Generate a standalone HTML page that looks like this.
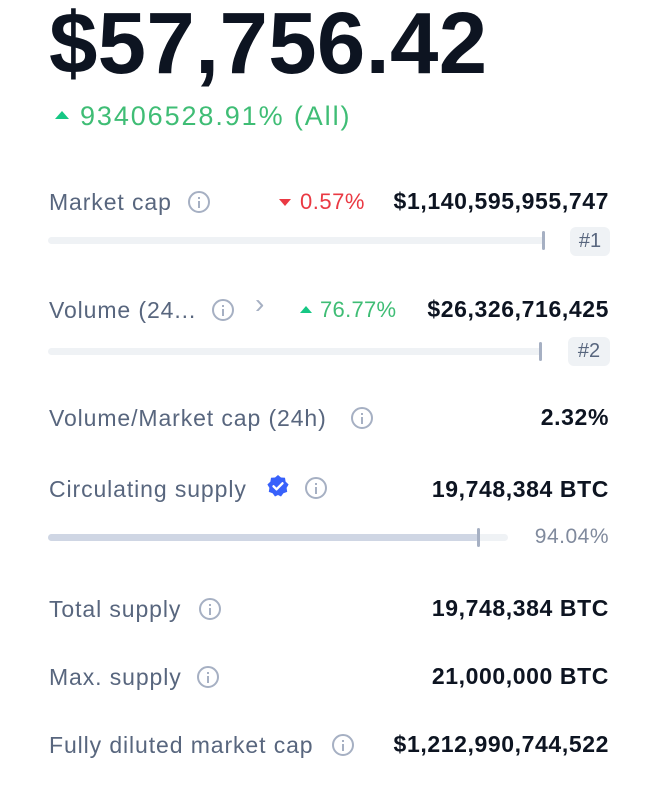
<!DOCTYPE html>
<html><head><meta charset="utf-8"><style>
body{margin:0;width:659px;height:807px;background:#fff;position:relative;overflow:hidden;font-family:"Liberation Sans",sans-serif}
.a{position:absolute;white-space:nowrap}
.lab{font-size:23px;color:#58667e;line-height:30px;letter-spacing:0.9px}
.val{font-size:23px;font-weight:bold;color:#0d1421;line-height:30px;right:50px;text-align:right;letter-spacing:0.6px}
.info{position:absolute;width:22px;height:22px;border:2px solid #a6b0c3;border-radius:50%;box-sizing:border-box}
.info:before{content:"";position:absolute;left:8px;top:4px;width:2px;height:2px;background:#a6b0c3}
.info:after{content:"";position:absolute;left:8px;top:8px;width:2px;height:7px;background:#a6b0c3}
.track{position:absolute;height:7px;background:#eff2f5;border-radius:4px}
.thumb{position:absolute;width:3px;height:19px;background:#a6b0c3;border-radius:2px}
.badge{position:absolute;background:#eff2f5;border-radius:6px;color:#58667e;font-size:20px;text-align:center;line-height:29px}
</style></head><body>
<div class="a" style="left:49px;top:-6px;font-size:87px;font-weight:bold;color:#0d1421;line-height:100px;letter-spacing:0.3px">$57,756.42</div>
<div class="a" style="left:55px;top:111px;width:0;height:0;border-left:7px solid transparent;border-right:7px solid transparent;border-bottom:8px solid #16c784"></div>
<div class="a" style="left:80px;top:100px;font-size:27px;color:#3fbd75;line-height:32px;letter-spacing:1.9px">93406528.91% (All)</div>

<div class="a lab" style="left:49px;top:187px">Market cap</div>
<div class="info" style="left:188px;top:191px"></div>
<div class="a" style="left:279px;top:199px;width:0;height:0;border-left:6px solid transparent;border-right:6px solid transparent;border-top:7px solid #ea3943"></div>
<div class="a" style="left:300px;top:187px;font-size:22px;color:#ea3943;line-height:30px;letter-spacing:0.5px">0.57%</div>
<div class="a val" style="top:186px">$1,140,595,955,747</div>
<div class="track" style="left:48px;top:237px;width:497px"></div>
<div class="thumb" style="left:542px;top:231px"></div>
<div class="badge" style="left:570px;top:227px;width:40px">#1</div>

<div class="a lab" style="left:49px;top:295px">Volume (24...</div>
<div class="info" style="left:212px;top:299px"></div>
<div class="a" style="left:255px;top:288px;font-size:28px;color:#a6b0c3;line-height:32px">›</div>
<div class="a" style="left:300px;top:306px;width:0;height:0;border-left:6px solid transparent;border-right:6px solid transparent;border-bottom:7px solid #16c784"></div>
<div class="a" style="left:320px;top:295px;font-size:22px;color:#3fbd75;line-height:30px;letter-spacing:0.3px">76.77%</div>
<div class="a val" style="top:294px">$26,326,716,425</div>
<div class="track" style="left:48px;top:348px;width:494px"></div>
<div class="thumb" style="left:539px;top:342px"></div>
<div class="badge" style="left:568px;top:337px;width:42px">#2</div>

<div class="a lab" style="left:49px;top:403px">Volume/Market cap (24h)</div>
<div class="info" style="left:351px;top:407px"></div>
<div class="a val" style="top:402px">2.32%</div>

<div class="a lab" style="left:49px;top:474px">Circulating supply</div>
<svg class="a" style="left:266px;top:474px" width="24" height="24" viewBox="0 0 24 24"><path d="M12 1l3 2.5 4 .2.6 3.9 3 2.9-2 3.4.6 4-3.8 1.3L15 22.5 12 21l-3 1.5-2.4-3.3-3.8-1.3.6-4-2-3.4 3-2.9L5 3.7l4-.2z" fill="#3861fb"/><path d="M7.5 12.3l3 3 6-6" stroke="#fff" stroke-width="2.4" fill="none" stroke-linecap="round" stroke-linejoin="round"/></svg>
<div class="info" style="left:305px;top:477px"></div>
<div class="a val" style="top:474px">19,748,384 BTC</div>
<div class="track" style="left:48px;top:534px;width:460px"></div>
<div class="track" style="left:48px;top:534px;width:431px;background:#cfd6e4"></div>
<div class="thumb" style="left:477px;top:528px"></div>
<div class="a" style="right:50px;top:523px;font-size:21px;color:#808a9d;line-height:28px;letter-spacing:0.5px">94.04%</div>

<div class="a lab" style="left:49px;top:594px">Total supply</div>
<div class="info" style="left:199px;top:598px"></div>
<div class="a val" style="top:593px">19,748,384 BTC</div>

<div class="a lab" style="left:49px;top:662px">Max. supply</div>
<div class="info" style="left:197px;top:666px"></div>
<div class="a val" style="top:661px">21,000,000 BTC</div>

<div class="a lab" style="left:49px;top:730px">Fully diluted market cap</div>
<div class="info" style="left:332px;top:734px"></div>
<div class="a val" style="top:729px">$1,212,990,744,522</div>
</body></html>
